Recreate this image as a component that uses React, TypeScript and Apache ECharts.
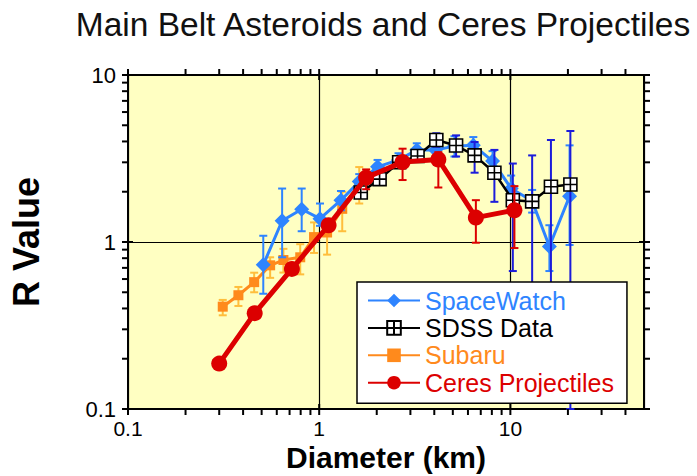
import React, { useEffect, useRef } from 'react';
import * as echarts from 'echarts';

// ---- data (diameter km, R value, error bar low/high) ----
const spaceWatchD = [0.51, 0.64, 0.81, 1.01, 1.3, 1.62, 2.02, 2.6, 3.24, 4.06, 5.1, 6.4, 8.07, 10.1, 13.0, 16.0, 20.4];
const spaceWatchR = [0.73, 1.34, 1.57, 1.38, 1.78, 2.3, 2.82, 3.1, 3.55, 3.56, 3.75, 3.8, 3.05, 2.09, 1.76, 0.94, 1.88];
const spaceWatchLo = [0.49, 0.81, 1.16, 1.25, 1.55, 2.05, 2.55, 2.8, 3.2, 3.2, 3.25, 3.35, 2.6, 1.75, 1.5, 0.67, 0.96];
const spaceWatchHi = [1.09, 2.09, 2.09, 1.7, 2.02, 2.55, 3.1, 3.4, 3.9, 3.95, 4.3, 4.25, 3.5, 2.5, 2.05, 1.26, 3.79];

const sdssD = [1.65, 2.07, 2.62, 3.27, 4.1, 5.2, 6.5, 8.25, 10.3, 13.0, 16.3, 20.6];
const sdssR = [1.98, 2.38, 3.0, 3.27, 4.08, 3.78, 3.3, 2.6, 1.78, 1.75, 2.14, 2.21];
const sdssLo: (number | null)[] = [null, null, null, null, 3.72, 3.25, 2.6, 1.74, 0.67, 0.2, 0.2, 0.1];
const sdssHi: (number | null)[] = [null, null, null, null, 4.48, 4.35, 3.97, 3.56, 2.95, 3.3, 4.08, 4.62];

const subaruD = [0.313, 0.378, 0.457, 0.554, 0.65, 0.796, 0.94, 1.1, 1.32, 1.62];
const subaruR = [0.41, 0.48, 0.575, 0.725, 0.78, 0.81, 1.07, 1.14, 1.58, 2.23];
const subaruLo = [0.364, 0.414, 0.5, 0.61, 0.656, 0.64, 0.86, 0.84, 1.16, 1.7];
const subaruHi = [0.45, 0.538, 0.655, 0.81, 0.91, 0.97, 1.31, 1.35, 2.0, 2.81];

const ceresD = [0.3, 0.46, 0.72, 1.12, 1.76, 2.73, 4.2, 6.6, 10.5];
const ceresR = [0.187, 0.375, 0.69, 1.26, 2.43, 3.01, 3.12, 1.4, 1.55];
const ceresLo: (number | null)[] = [null, null, null, null, 2.07, 2.35, 2.12, 0.99, 0.92];
const ceresHi: (number | null)[] = [null, null, null, null, 2.72, 3.62, 3.45, 1.78, 2.16];

const xMajorTicks = [0.1, 1, 10];
const xMinorTicks = [0.2, 0.3, 0.4, 0.5, 0.6, 0.7, 0.8, 0.9, 2, 3, 4, 5, 6, 7, 8, 9, 20, 30, 40];
const yMajorTicks = [0.1, 1, 10];
const yMinorTicks = [0.2, 0.3, 0.4, 0.5, 0.6, 0.7, 0.8, 0.9, 2, 3, 4, 5, 6, 7, 8, 9];

const TITLE = 'Main Belt Asteroids and Ceres Projectiles';
const X_NAME = 'Diameter (km)';
const Y_NAME = 'R Value';

const FONT = '"Liberation Sans", Arial, Helvetica, sans-serif';
const C_SW = '#2E84FF';
const C_SDSS_ERR = '#1C1CDA';
const C_SUB = '#FF8A1C';
const C_SUB_ERR = '#FFBE3C';
const C_CER = '#DC0000';

const pairs = (xs: number[], ys: number[]) => xs.map((x, i) => [x, ys[i]]);
const errData = (xs: number[], lo: (number | null)[], hi: (number | null)[]) =>
  xs
    .map((x, i) => [x, lo[i], hi[i]])
    .filter((d) => d[1] != null && d[2] != null) as number[][];

const errRender = (color: string, width: number) => (params: any, api: any) => {
  const x = api.value(0);
  const p1 = api.coord([x, api.value(1)]);
  const p2 = api.coord([x, api.value(2)]);
  const hw = 4;
  const st = { stroke: color, lineWidth: width };
  return {
    type: 'group',
    children: [
      { type: 'line', shape: { x1: p1[0], y1: p1[1], x2: p2[0], y2: p2[1] }, style: st },
      { type: 'line', shape: { x1: p1[0] - hw, y1: p1[1], x2: p1[0] + hw, y2: p1[1] }, style: st },
      { type: 'line', shape: { x1: p2[0] - hw, y1: p2[1], x2: p2[0] + hw, y2: p2[1] }, style: st },
    ],
  };
};

const xTickRender = (params: any, api: any) => {
  const cs = params.coordSys;
  const p = api.coord([api.value(0), 1]);
  const major = api.value(1) === 2;
  const inn = major ? 5 : 0;
  const out = 6;
  const yb = cs.y + cs.height;
  const yt = cs.y;
  const st = { stroke: '#000', lineWidth: 2 };
  return {
    type: 'group',
    children: [
      { type: 'line', shape: { x1: p[0], y1: yb - inn, x2: p[0], y2: yb + out }, style: st },
      { type: 'line', shape: { x1: p[0], y1: yt + inn, x2: p[0], y2: yt - out }, style: st },
    ],
  };
};

const yTickRender = (params: any, api: any) => {
  const cs = params.coordSys;
  const p = api.coord([1, api.value(1)]);
  const major = api.value(0) === 2;
  const inn = major ? 5 : 0;
  const out = 6;
  const xl = cs.x;
  const xr = cs.x + cs.width;
  const st = { stroke: '#000', lineWidth: 2 };
  return {
    type: 'group',
    children: [
      { type: 'line', shape: { x1: xl + inn, y1: p[1], x2: xl - out, y2: p[1] }, style: st },
      { type: 'line', shape: { x1: xr - inn, y1: p[1], x2: xr + out, y2: p[1] }, style: st },
    ],
  };
};

const sdssSymbol = 'path://M0,0L10,0L10,10L0,10ZM5,0L5,10M0,5L10,5';

export default function App() {
  const ref = useRef<HTMLDivElement>(null);
  useEffect(() => {
    if (!ref.current) return;
    const chart = echarts.init(ref.current, null, { renderer: 'svg' });
    const option: any = {
      animation: false,
      backgroundColor: '#ffffff',
      textStyle: { fontFamily: FONT },
      title: {
        text: TITLE,
        left: 378,
        top: 2,
        textAlign: 'center',
        textStyle: { fontFamily: FONT, fontSize: 33.5, fontWeight: 'normal', color: '#111' },
      },
      grid: {
        left: 128,
        right: 53,
        top: 75,
        bottom: 67,
        show: true,
        backgroundColor: '#FFFFC2',
        borderColor: '#000',
        borderWidth: 2,
        containLabel: false,
        outerBoundsMode: 'none',
      },
      legend: {
        left: 357,
        top: 282,
        orient: 'vertical',
        padding: [6, 13, 8, 10],
        itemGap: 2.4,
        itemWidth: 52,
        itemHeight: 17,
        backgroundColor: '#ffffff',
        borderColor: '#000',
        borderWidth: 1.5,
        textStyle: { fontFamily: FONT, fontSize: 25, lineHeight: 25 },
        data: [
          { name: 'SpaceWatch', textStyle: { color: C_SW } },
          { name: 'SDSS Data', textStyle: { color: '#000' } },
          { name: 'Subaru', textStyle: { color: C_SUB } },
          { name: 'Ceres Projectiles', textStyle: { color: C_CER } },
        ],
        z: 20,
      },
      xAxis: {
        type: 'log',
        logBase: 10,
        min: 0.1,
        max: 50,
        name: X_NAME,
        nameLocation: 'middle',
        nameGap: 33,
        nameMoveOverlap: false,
        nameTextStyle: { fontFamily: FONT, fontSize: 30, fontWeight: 'bold', color: '#000' },
        axisLine: { show: false },
        axisTick: { show: false },
        axisLabel: { fontFamily: FONT, fontSize: 21, lineHeight: 21, color: '#000', margin: 9, showMaxLabel: false },
        splitLine: { show: true, lineStyle: { color: '#000', width: 1.2 } },
      },
      yAxis: {
        type: 'log',
        logBase: 10,
        min: 0.1,
        max: 10,
        name: Y_NAME,
        nameLocation: 'middle',
        nameGap: 84,
        nameMoveOverlap: false,
        nameTextStyle: { fontFamily: FONT, fontSize: 36, fontWeight: 'bold', color: '#000' },
        axisLine: { show: false },
        axisTick: { show: false },
        axisLabel: { fontFamily: FONT, fontSize: 22, color: '#000', margin: 12 },
        splitLine: { show: true, lineStyle: { color: '#000', width: 1.2 } },
      },
      series: [
        {
          type: 'custom',
          name: 'xticks',
          renderItem: xTickRender,
          data: [...xMajorTicks.map((v) => [v, 2]), ...xMinorTicks.map((v) => [v, 1])],
          encode: { x: 0 },
          z: 30,
          silent: true,
        },
        {
          type: 'custom',
          name: 'yticks',
          renderItem: yTickRender,
          data: [...yMajorTicks.map((v) => [2, v]), ...yMinorTicks.map((v) => [1, v])],
          encode: { y: 1 },
          z: 30,
          silent: true,
        },
        {
          type: 'custom',
          name: 'Subaru err',
          renderItem: errRender(C_SUB_ERR, 2),
          data: errData(subaruD, subaruLo, subaruHi),
          encode: { x: 0, y: [1, 2] },
          z: 2,
        },
        {
          type: 'line',
          name: 'Subaru',
          data: pairs(subaruD, subaruR),
          symbol: 'rect',
          symbolSize: 10,
          itemStyle: { color: C_SUB },
          lineStyle: { color: C_SUB, width: 3 },
          z: 3,
        },
        {
          type: 'custom',
          name: 'SpaceWatch err',
          renderItem: errRender(C_SW, 2),
          data: errData(spaceWatchD, spaceWatchLo, spaceWatchHi),
          encode: { x: 0, y: [1, 2] },
          z: 4,
        },
        {
          type: 'line',
          name: 'SpaceWatch',
          data: pairs(spaceWatchD, spaceWatchR),
          symbol: 'diamond',
          symbolSize: 15,
          itemStyle: { color: C_SW },
          lineStyle: { color: C_SW, width: 3 },
          z: 5,
        },
        {
          type: 'custom',
          name: 'SDSS err',
          renderItem: errRender(C_SDSS_ERR, 2),
          data: errData(sdssD, sdssLo, sdssHi),
          encode: { x: 0, y: [1, 2] },
          z: 6,
        },
        {
          type: 'line',
          name: 'SDSS Data',
          data: pairs(sdssD, sdssR),
          symbol: sdssSymbol,
          symbolSize: 13,
          itemStyle: { color: '#ffffff', borderColor: '#000', borderWidth: 1.6 },
          lineStyle: { color: '#000', width: 2.5 },
          z: 7,
        },
        {
          type: 'custom',
          name: 'Ceres err',
          renderItem: errRender(C_CER, 2),
          data: errData(ceresD, ceresLo, ceresHi),
          encode: { x: 0, y: [1, 2] },
          z: 8,
        },
        {
          type: 'line',
          name: 'Ceres Projectiles',
          data: pairs(ceresD, ceresR),
          symbol: 'circle',
          symbolSize: 16,
          itemStyle: { color: C_CER },
          lineStyle: { color: C_CER, width: 5 },
          z: 9,
        },
      ],
    };
    chart.setOption(option);
    return () => chart.dispose();
  }, []);
  return <div ref={ref} style={{ position: 'fixed', left: 0, top: 0, width: 697, height: 476 }} />;
}
